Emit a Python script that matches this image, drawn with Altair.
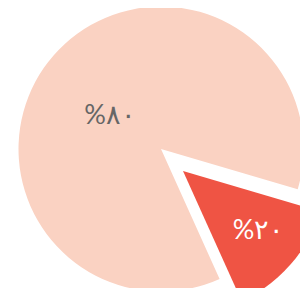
import math
import altair as alt
import pandas as pd

# data
labels = ["%٢٠", "%٨٠"]
values = [13.7, 86.3]
kinds = ["small", "big"]

df = pd.DataFrame({"label": labels, "value": values, "kind": kinds})

start = math.radians(106.4)
theta_scale = alt.Scale(domain=[0, 100], range=[start, start + 2 * math.pi])

base = (
    alt.Chart(df)
    .transform_window(end="sum(value)", frame=[None, 0])
    .transform_calculate(start="datum.end - datum.value", mid="datum.end - datum.value/2")
)

R = 142.5

big_arc = base.transform_filter("datum.kind == 'big'").mark_arc(
    color="#FAD2C2", radius=R
).encode(
    theta=alt.Theta("start:Q", scale=theta_scale),
    theta2="end:Q",
    x=alt.value(153),
    y=alt.value(141),
)
small_arc = base.transform_filter("datum.kind == 'small'").mark_arc(
    color="#EF5444", radius=R
).encode(
    theta=alt.Theta("start:Q", scale=theta_scale),
    theta2="end:Q",
    x=alt.value(175),
    y=alt.value(163),
)
big_text = base.transform_filter("datum.kind == 'big'").mark_text(
    radius=61, fontSize=27, font="Lato", color="#666666", dx=-5, dy=7
).encode(
    theta=alt.Theta("mid:Q", scale=theta_scale),
    text="label:N",
    x=alt.value(153),
    y=alt.value(141),
)
small_text = base.transform_filter("datum.kind == 'small'").mark_text(
    radius=95, fontSize=27, font="Lato", color="#FFFFFF", dx=4, dy=-2
).encode(
    theta=alt.Theta("mid:Q", scale=theta_scale),
    text="label:N",
    x=alt.value(175),
    y=alt.value(163),
)

chart = (
    alt.layer(big_arc, small_arc, big_text, small_text)
    .resolve_scale(theta="shared")
    .properties(width=292, height=280, padding=0, autosize="none")
    .configure_view(stroke=None)
)

chart.save("out.html", embed_options={"renderer": "svg", "actions": False})
